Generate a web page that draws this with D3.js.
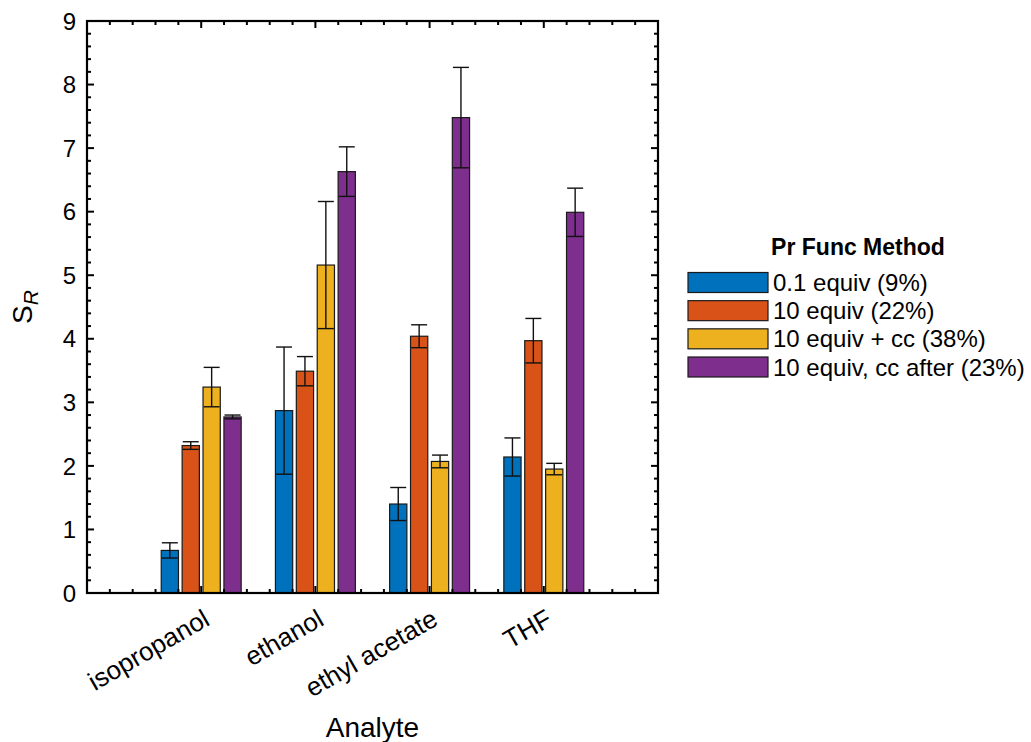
<!DOCTYPE html>
<html>
<head>
<meta charset="utf-8">
<script src="https://cdn.jsdelivr.net/npm/d3@7"></script>
<style>
  html, body { margin: 0; padding: 0; background: #fff; }
  svg text { font-family: "Liberation Sans", Arial, Helvetica, sans-serif; fill: #000; }
</style>
</head>
<body>
<svg id="chart" width="1031" height="742"></svg>
<script>
// Analytes along the x axis
const analytes = ["isopropanol", "ethanol", "ethyl acetate", "THF"];
// Functionalisation methods (legend entries)
const methods = ["0.1 equiv (9%)", "10 equiv (22%)", "10 equiv + cc (38%)", "10 equiv, cc after (23%)"];
const methodColors = ["#0072BD", "#D95319", "#EDB120", "#7E2F8E"];
// Mean S_R per method, one value per analyte
const sr01 = [0.67, 2.87, 1.40, 2.14];
const sr10 = [2.32, 3.49, 4.04, 3.97];
const sr10cc = [3.24, 5.16, 2.07, 1.95];
const sr10ccAfter = [2.77, 6.63, 7.48, 5.99];
// Error-bar half lengths
const err01 = [0.12, 1.00, 0.26, 0.30];
const err10 = [0.06, 0.23, 0.18, 0.35];
const err10cc = [0.31, 1.00, 0.10, 0.09];
const err10ccAfter = [0.03, 0.39, 0.79, 0.38];
// Axis ticks
const yTicks = [0, 1, 2, 3, 4, 5, 6, 7, 8, 9];
const xTicks = [1, 2, 3, 4];

const values = [sr01, sr10, sr10cc, sr10ccAfter];
const errors = [err01, err10, err10cc, err10ccAfter];

const svg = d3.select("#chart");
const pLeft = 87, pRight = 658, pTop = 21, pBottom = 593;

const x = d3.scaleLinear().domain([0, 5]).range([pLeft, pRight]);
const y = d3.scaleLinear().domain([0, 9]).range([pBottom, pTop]);

const groupStep = 0.183;   // spacing between bars in a group (x units)
const barWidth = 0.151;    // bar width (x units)

const rows = [];
methods.forEach((m, k) => {
  analytes.forEach((a, i) => {
    rows.push({ k, i, v: values[k][i], e: errors[k][i],
                cx: (i + 1) + (k - 1.5) * groupStep });
  });
});

// Bars
svg.append("g").selectAll("rect").data(rows).join("rect")
  .attr("x", d => x(d.cx - barWidth / 2))
  .attr("width", d => x(barWidth) - x(0))
  .attr("y", d => y(d.v))
  .attr("height", d => y(0) - y(d.v))
  .attr("fill", d => methodColors[d.k])
  .attr("stroke", "#1a1a1a")
  .attr("stroke-width", 1.2);

// Error bars
const capHalf = 0.07;
const eb = svg.append("g").attr("stroke", "#111").attr("stroke-width", 1.4);
rows.forEach(d => {
  eb.append("line").attr("x1", x(d.cx)).attr("x2", x(d.cx))
    .attr("y1", y(d.v - d.e)).attr("y2", y(d.v + d.e));
  [d.v - d.e, d.v + d.e].forEach(val => {
    eb.append("line")
      .attr("x1", x(d.cx - capHalf)).attr("x2", x(d.cx + capHalf))
      .attr("y1", y(val)).attr("y2", y(val));
  });
});

// Axis frame and inward ticks on all four sides
const axisG = svg.append("g");
const majorLen = 7, minorLen = 4;
const yMinor = d3.range(0, 9.001, 0.2);
const xMinor = d3.range(0, 5.001, 0.2);
const isMajor = v => Math.abs(v - Math.round(v)) < 1e-6;

const tickG = axisG.append("g").attr("stroke", "#000").attr("stroke-width", 2);
yMinor.forEach(v => {
  const len = isMajor(v) ? majorLen : minorLen;
  tickG.append("line").attr("x1", pLeft).attr("x2", pLeft + len).attr("y1", y(v)).attr("y2", y(v));
  tickG.append("line").attr("x1", pRight).attr("x2", pRight - len).attr("y1", y(v)).attr("y2", y(v));
});
xMinor.forEach(v => {
  const len = isMajor(v) ? majorLen : minorLen;
  tickG.append("line").attr("x1", x(v)).attr("x2", x(v)).attr("y1", pBottom).attr("y2", pBottom - len);
  tickG.append("line").attr("x1", x(v)).attr("x2", x(v)).attr("y1", pTop).attr("y2", pTop + len);
});

axisG.append("rect")
  .attr("x", pLeft).attr("y", pTop)
  .attr("width", pRight - pLeft).attr("height", pBottom - pTop)
  .attr("fill", "none").attr("stroke", "#000").attr("stroke-width", 2.2);

// Y tick labels
axisG.append("g").selectAll("text").data(yTicks).join("text")
  .attr("x", pLeft - 11)
  .attr("y", d => y(d))
  .attr("dy", "0.36em")
  .attr("text-anchor", "end")
  .style("font-size", "24px")
  .text(d => d);

// X tick labels, rotated
axisG.append("g").selectAll("text").data(xTicks).join("text")
  .attr("transform", d => `translate(${x(d) + 10},624) rotate(-30)`)
  .attr("text-anchor", "end")
  .style("font-size", "26px")
  .text((d, i) => analytes[i]);

// Axis titles
svg.append("text")
  .attr("x", (pLeft + pRight) / 2)
  .attr("y", 737)
  .attr("text-anchor", "middle")
  .style("font-size", "28px")
  .text("Analyte");

const yl = svg.append("text")
  .attr("transform", `translate(32,${(pTop + pBottom) / 2}) rotate(-90)`)
  .attr("text-anchor", "middle")
  .style("font-size", "28px");
yl.append("tspan").text("S");
yl.append("tspan").attr("dy", "0.3em").style("font-style", "italic").style("font-size", "21px").text("R");

// Legend
const legend = svg.append("g");
legend.append("text")
  .attr("x", 858).attr("y", 255)
  .attr("text-anchor", "middle")
  .style("font-size", "23px")
  .style("font-weight", "bold")
  .text("Pr Func Method");

const rowY = d3.scaleLinear().domain([0, 3]).range([282.5, 367]);
methods.forEach((m, k) => {
  legend.append("rect")
    .attr("x", 688).attr("y", rowY(k) - 10)
    .attr("width", 80).attr("height", 20)
    .attr("fill", methodColors[k])
    .attr("stroke", "#1a1a1a").attr("stroke-width", 1.2);
  legend.append("text")
    .attr("x", 773).attr("y", rowY(k))
    .attr("dy", "0.36em")
    .style("font-size", "24px")
    .text(m);
});
</script>
</body>
</html>
